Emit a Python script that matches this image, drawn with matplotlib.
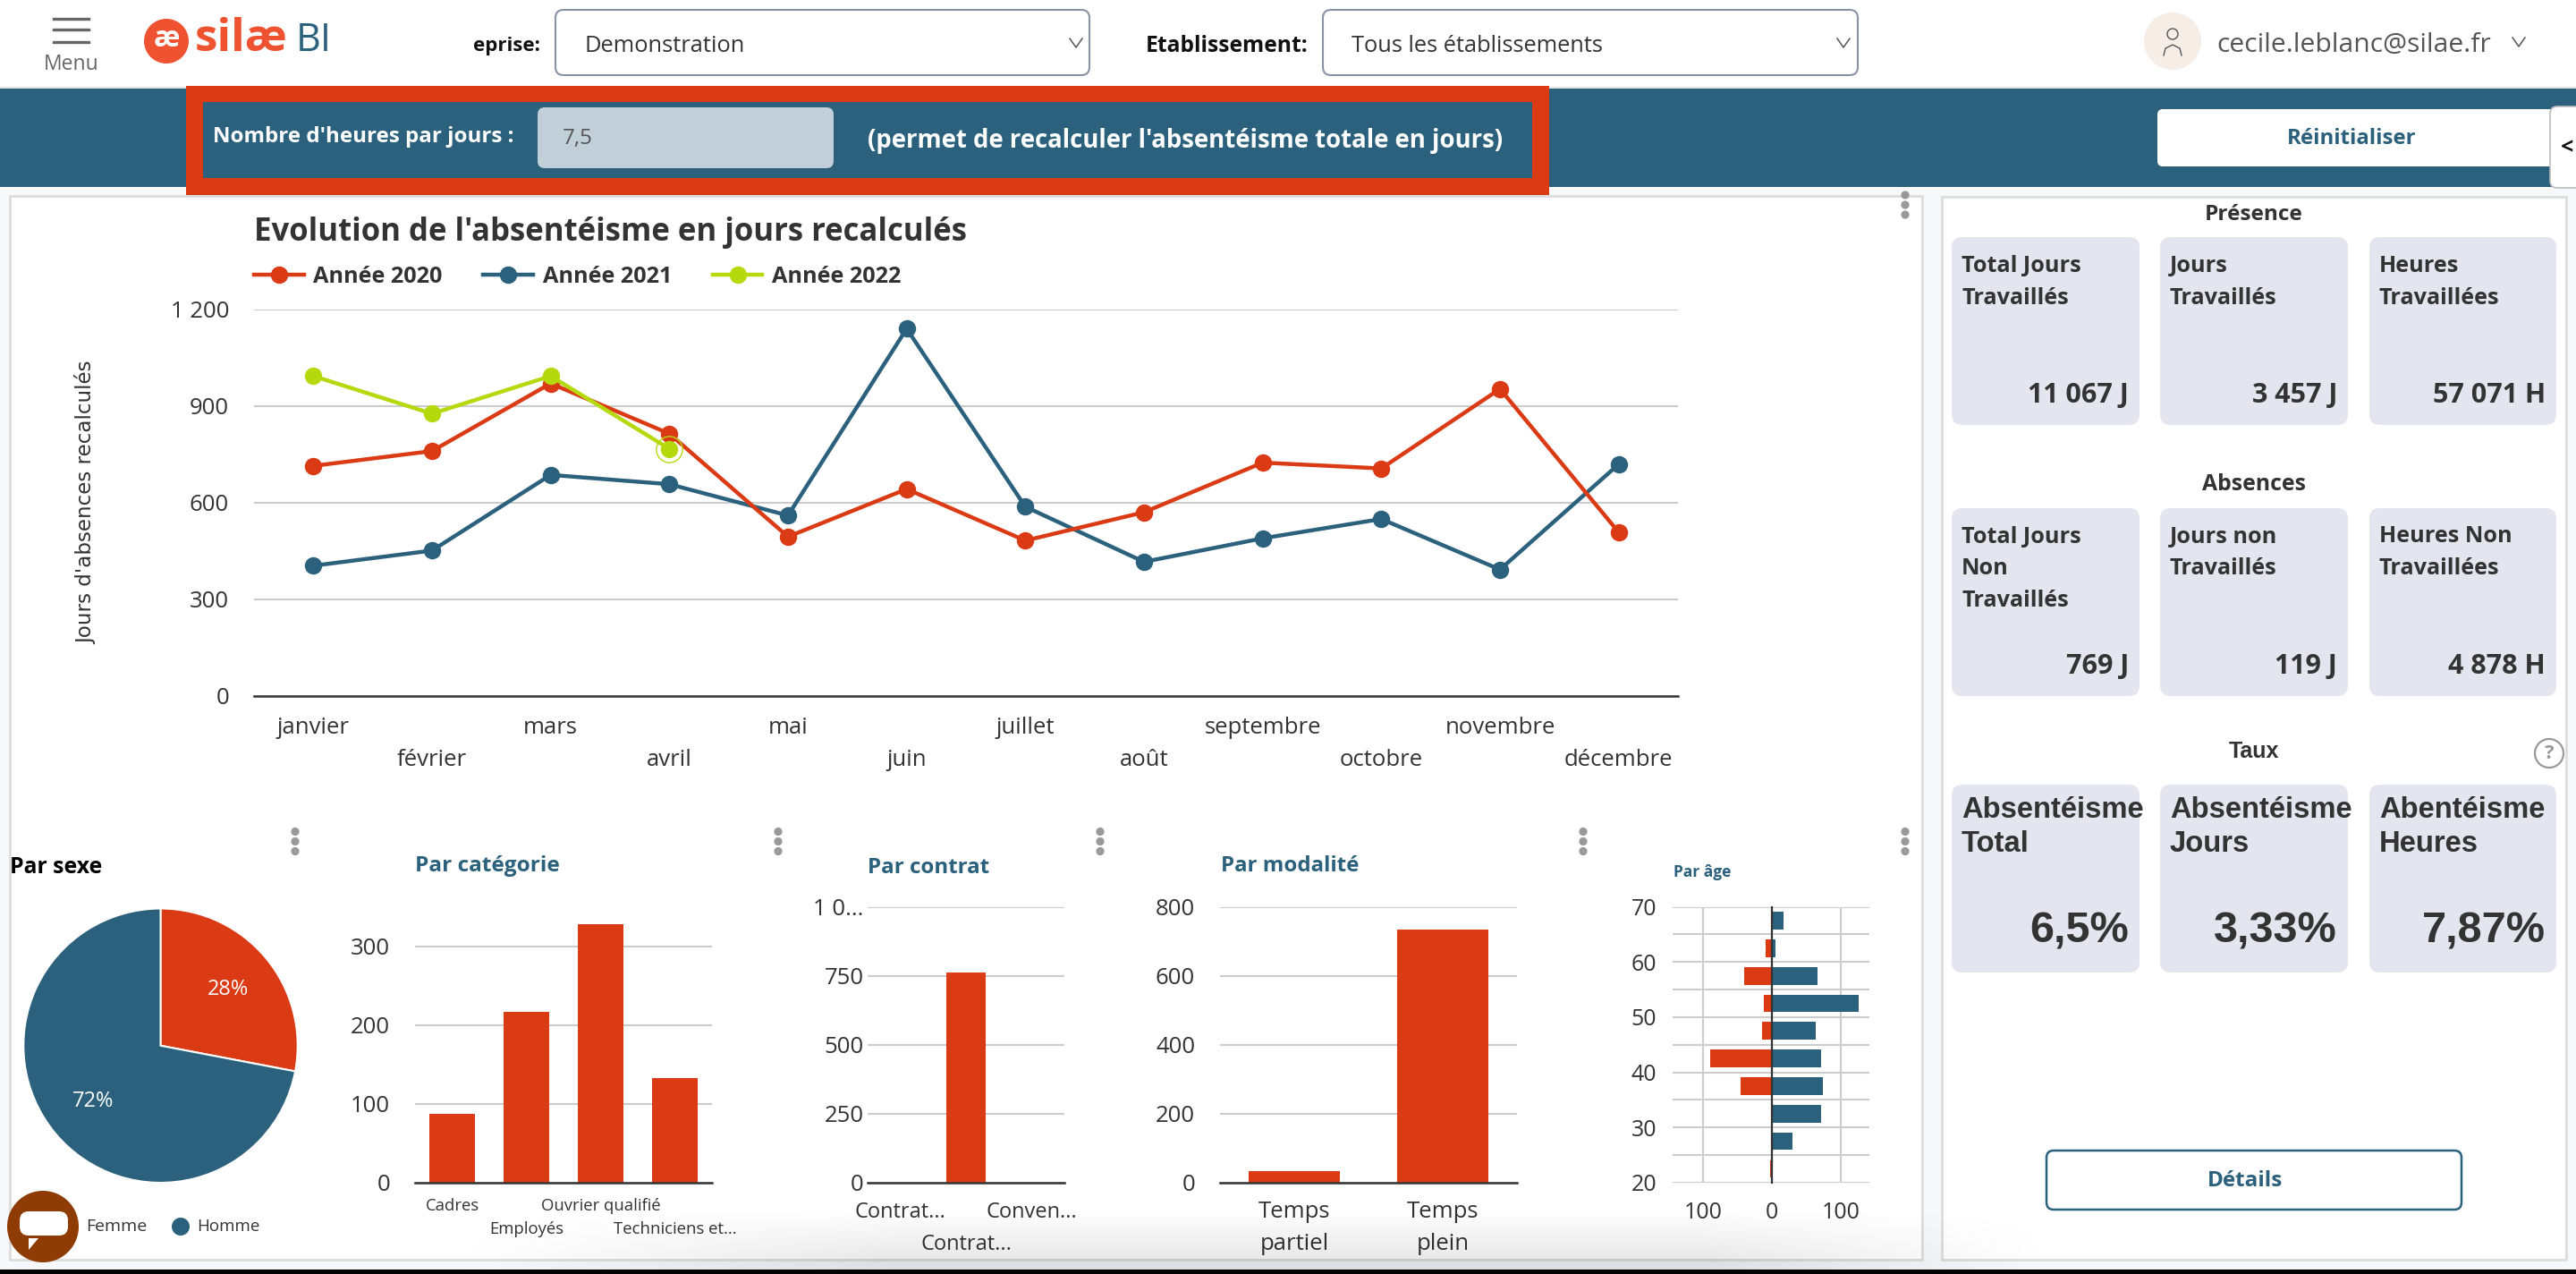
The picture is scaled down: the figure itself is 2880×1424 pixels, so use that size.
import numpy as np
import matplotlib
matplotlib.use("Agg")
import matplotlib.pyplot as plt
from matplotlib.patches import FancyBboxPatch, Rectangle, Ellipse, Circle, Polygon

# --- data ---
months = ["janvier", "février", "mars", "avril", "mai", "juin", "juillet",
          "août", "septembre", "octobre", "novembre", "décembre"]
year_2020 = [714, 760, 970, 814, 494, 642, 482, 570, 724, 706, 953, 508]
year_2021 = [404, 451, 686, 657, 560, 1140, 587, 416, 489, 549, 392, 719]
year_2022 = [993, 876, 993, 767]
main_ticks = [0, 300, 600, 900, 1200]
main_ticklabels = ["0", "300", "600", "900", "1 200"]

sex_labels = ["Femme", "Homme"]
sex_values = [28, 72]

cat_labels = ["Cadres", "Employés", "Ouvrier qualifié", "Techniciens et..."]
cat_values = [87.5, 217, 328.5, 132.7]
cat_ticks = [0, 100, 200, 300]

contract_labels = ["Contrat...", "Contrat...", "Conven..."]
contract_values = [0, 761, 0]
contract_ticks = [0, 250, 500, 750, 1000]
contract_ticklabels = ["0", "250", "500", "750", "1 0..."]

mode_labels = ["Temps\npartiel", "Temps\nplein"]
mode_values = [33, 734]
mode_ticks = [0, 200, 400, 600, 800]

age_bins = [67.5, 62.5, 57.5, 52.5, 47.5, 42.5, 37.5, 32.5, 27.5, 22.5]
age_femme = [0, -9, -40, -12, -14, -90, -45, 0, 0, -3]
age_homme = [17, 5.6, 66, 126, 64, 71, 74, 71, 30, 0]
age_ticks = [20, 30, 40, 50, 60, 70]

presence_labels = ["Total Jours\nTravaillés", "Jours\nTravaillés", "Heures\nTravaillées"]
presence_values = ["11 067 J", "3 457 J", "57 071 H"]
absence_labels = ["Total Jours\nNon\nTravaillés", "Jours non\nTravaillés", "Heures Non\nTravaillées"]
absence_values = ["769 J", "119 J", "4 878 H"]
rate_labels = ["Absentéisme\nTotal", "Absentéisme\nJours", "Abentéisme\nHeures"]
rate_values = ["6,5%", "3,33%", "7,87%"]

RED = "#DA3A14"
TEAL = "#2B617C"
GREEN = "#B6D90E"
DARK = "#333333"
GRID = "#CCCCCC"
CARD = "#E4E5EE"
PAGE = "#F6F8FC"
BORDER = "#DDDDDD"

W, H = 2880, 1424
FONT = ["Open Sans", "DejaVu Sans"]
ARIAL = ["Liberation Sans", "DejaVu Sans"]
plt.rcParams["font.family"] = FONT
plt.rcParams["axes.unicode_minus"] = False

fig = plt.figure(figsize=(W / 100, H / 100), dpi=100, facecolor="black")

# full-figure layer in pixel coordinates, for the page around the charts
bg = fig.add_axes([0, 0, 1, 1], zorder=0)
bg.set_xlim(0, W)
bg.set_ylim(H, 0)
bg.axis("off")


def px_axes(left, top, right, bottom):
    ax = fig.add_axes([left / W, 1 - bottom / H, (right - left) / W, (bottom - top) / H], zorder=2)
    ax.patch.set_alpha(0)
    for s in ax.spines.values():
        s.set_visible(False)
    return ax


def box(x0, y0, x1, y1, fc, ec="none", lw=0, r=0, z=1, layer=None):
    layer = layer or bg
    if r:
        p = FancyBboxPatch((x0, y0), x1 - x0, y1 - y0, boxstyle="round,pad=0,rounding_size=%s" % r,
                           fc=fc, ec=ec, lw=lw, zorder=z)
    else:
        p = Rectangle((x0, y0), x1 - x0, y1 - y0, fc=fc, ec=ec, lw=lw, zorder=z)
    layer.add_patch(p)


def label(x, y, s, size, color=DARK, weight="normal", ha="left", family=FONT, layer=None, **kw):
    layer = layer or bg
    layer.text(x, y, s, fontsize=size, color=color, fontweight=weight, ha=ha, va="center",
               family=family, **kw)


def chevron(x, y):
    bg.plot([x - 7, x, x + 7], [y - 5, y + 5, y - 5], color="#555555", lw=1.1, zorder=3)


def dots(x, y):
    for d in (-11, 0, 11):
        bg.add_patch(Circle((x, y + d), 4.6, fc="#999999", ec="none", zorder=3))


# page, header
box(0, -40, W, 1419, "white", r=16, z=0)
box(0, 210, W, 1419, PAGE, z=0.1)
box(0, 97, W, 99, "#E6E6E6", z=0.2)
box(0, 99, W, 209, TEAL, z=0.3)

for y in (21, 33, 47):
    bg.plot([60, 99], [y, y], color="#666666", lw=2.4, zorder=3)
label(80, 72, "Menu", 16.5, color="#666666", ha="center")

bg.add_patch(Ellipse((186, 46), 50, 50, fc="#EE5230", ec="none", zorder=2))
label(186, 44, "æ", 23, color="white", weight="bold", ha="center")
label(218, 44, "silæ", 37, color="#EE5230", weight="bold")
label(331, 46, "BI", 31, color=TEAL)

label(604, 51, "eprise:", 16, color="#111111", weight="bold", ha="right")
box(621, 11, 1218, 84, "white", ec="#8A92A6", lw=1.5, r=9)
label(654, 52, "Demonstration", 18.4)
chevron(1203, 48)
label(1281, 51, "Etablissement:", 17.7, color="#111111", weight="bold")
box(1479, 11, 2077, 84, "white", ec="#8A92A6", lw=1.5, r=9)
label(1511, 52, "Tous les établissements", 18.3)
chevron(2061, 48)
bg.add_patch(Circle((2429, 46), 32, fc="#F5EDE6", ec="none", zorder=2))
bg.add_patch(Circle((2429, 38), 6, fc="none", ec="#555555", lw=1, zorder=3))
bg.plot([2419, 2421, 2429, 2437, 2439], [62, 54, 50, 54, 62], color="#555555", lw=1, zorder=3)
label(2478, 50, "cecile.leblanc@silae.fr", 21.6, color="#555555")
chevron(2816, 47)

# red highlight around the hours input
box(208, 96, 1732, 218, RED, z=1)
box(227, 114, 1713, 199, TEAL, z=1.1)
label(238, 153, "Nombre d'heures par jours :", 17.4, color="white", weight="bold")
box(601, 120, 932, 188, "#C1CFD8", r=8, z=1.2)
label(629, 155, "7,5", 17.5, color="#555555")
label(970, 157, "(permet de recalculer l'absentéisme totale en jours)", 19.8, color="white", weight="bold")
box(2412, 122, 2860, 186, "white", r=6, z=1)
label(2629, 155, "Réinitialiser", 17.3, color=TEAL, weight="bold", ha="center")
box(2851, 119, 2900, 210, "white", ec="#BBBBBB", lw=1.2, r=8, z=1.2)
label(2870, 166, "<", 18, color="#111111", weight="bold", ha="center")

# panels
box(11, 219, 2149, 1408, "white", ec=BORDER, lw=2, z=0.5)
box(2171, 220, 2869, 1408, "white", ec=BORDER, lw=2, z=0.5)
dots(2130, 229)
for x in (330, 870, 1230, 1770, 2130):
    dots(x, 940.5)

# main line chart
ax = px_axes(284, 345.8, 1876, 777.7)
xs = np.arange(len(months))
line_style = dict(lw=3.2, marker="o", ms=14, mew=0, clip_on=False)
ax.plot(xs, year_2021, color=TEAL, label="Année 2021", zorder=3, **line_style)
ax.plot(xs, year_2020, color=RED, label="Année 2020", zorder=3.1, **line_style)
ax.plot(xs[:len(year_2022)], year_2022, color=GREEN, label="Année 2022", zorder=3.2, **line_style)
ax.plot(xs[3], year_2022[3], marker="o", ms=21, mfc="none", mec=GREEN, mew=1, zorder=3.3)
ax.set_xlim(-0.5, 11.5)
ax.set_ylim(0, 1200)
ax.set_yticks(main_ticks, main_ticklabels)
ax.set_xticks([])
ax.tick_params(axis="y", length=0, pad=20, labelsize=18.5, labelcolor=DARK)
ax.grid(axis="y", color=GRID, lw=1.5, zorder=0)
ax.axhline(0, color=DARK, lw=1.8, zorder=2, clip_on=False)
for i, m in enumerate(months):
    ax.annotate(m, xy=(i, 0), xycoords=("data", "axes fraction"),
                xytext=(0, -36 if i % 2 == 0 else -72), textcoords="offset pixels",
                ha="center", va="center", fontsize=18.5, color=DARK)
handles, names = ax.get_legend_handles_labels()
order = [1, 0, 2]
ax.legend([handles[i] for i in order], [names[i] for i in order], loc="lower left", frameon=False,
          bbox_to_anchor=(284, 322), bbox_transform=bg.transData, ncols=3, borderpad=0, borderaxespad=0,
          handlelength=2.2, handletextpad=0.43, columnspacing=1.8,
          prop={"family": FONT, "weight": "bold", "size": 18.2}, labelcolor=DARK)
bg.text(96, 562, "Jours d'absences recalculés", rotation=90, fontsize=16.6, color=DARK,
        ha="center", va="center", family="DejaVu Sans", zorder=3)
label(284, 260, "Evolution de l'absentéisme en jours recalculés", 25, weight="bold")

# pie
ax = px_axes(26, 1015.5, 333, 1322)
ax.pie(sex_values, colors=[RED, TEAL], startangle=90, counterclock=False, radius=1,
       wedgeprops=dict(edgecolor="white", linewidth=1.5), autopct="%d%%", pctdistance=0.64,
       textprops=dict(color="white", fontsize=17))
ax.set_xlim(-1, 1)
ax.set_ylim(-1, 1)
label(11, 970, "Par sexe", 17.8, color="#000000", weight="bold")
label(96, 1371, sex_labels[0], 14)
bg.add_patch(Circle((202, 1371), 10, fc=TEAL, ec="none", zorder=2))
label(220, 1371, sex_labels[1], 13.5)


def bar_chart(ax, labels, values, ticks, ticklabels, pad, width, top):
    xpos = np.arange(len(labels))
    ax.bar(xpos, values, width=width, color=RED, zorder=2)
    ax.set_xlim(-0.5, len(labels) - 0.5)
    ax.set_ylim(0, top)
    ax.set_yticks(ticks, ticklabels)
    ax.set_xticks([])
    ax.tick_params(axis="y", length=0, pad=pad, labelsize=18.5, labelcolor=DARK)
    ax.grid(axis="y", color=GRID, lw=1.5, zorder=0)
    ax.set_axisbelow(True)
    ax.axhline(0, color=DARK, lw=1.8, zorder=3, clip_on=False)


def row_text(ax, i, s, offset, size):
    ax.annotate(s, xy=(i, 0), xycoords=("data", "axes fraction"), xytext=(0, -offset),
                textcoords="offset pixels", ha="center", va="center", fontsize=size, color=DARK)


# par catégorie
ax = px_axes(464, 1022.6, 796, 1321.8)
bar_chart(ax, cat_labels, cat_values, cat_ticks, [str(t) for t in cat_ticks], 20, 0.61, 340)
for i, s in enumerate(cat_labels):
    row_text(ax, i, s, 26 if i % 2 == 0 else 52, 13.3)
label(464, 968.5, "Par catégorie", 17.6, color=TEAL, weight="bold")

# par contrat
ax = px_axes(970, 1013.6, 1190, 1321.8)
bar_chart(ax, contract_labels, contract_values, contract_ticks, contract_ticklabels, 3, 0.6, 1000)
for i, s in enumerate(contract_labels):
    row_text(ax, i, s, 33 if i != 1 else 69, 17)
label(970.5, 969.5, "Par contrat", 17.4, color=TEAL, weight="bold")

# par modalité
ax = px_axes(1364, 1013.6, 1696, 1321.8)
bar_chart(ax, mode_labels, mode_values, mode_ticks, [str(t) for t in mode_ticks], 20, 0.615, 800)
for i, s in enumerate(mode_labels):
    first, second = s.split("\n")
    row_text(ax, i, first, 33, 18.5)
    row_text(ax, i, second, 69, 18.5)
label(1365, 968, "Par modalité", 17.3, color=TEAL, weight="bold")

# par âge
ax = px_axes(1870, 1013.6, 2090, 1321.8)
ax.barh(age_bins, age_femme, height=3.2, color=RED, zorder=2)
ax.barh(age_bins, age_homme, height=3.2, color=TEAL, zorder=2)
ax.set_xlim(-144, 141.5)
ax.set_ylim(20, 70)
ax.set_yticks(age_ticks, [str(t) for t in age_ticks])
ax.set_yticks(np.arange(20, 71, 5), minor=True)
ax.set_xticks([-100, 0, 100], ["100", "0", "100"])
ax.tick_params(axis="both", which="both", length=0)
ax.tick_params(axis="y", pad=13, labelsize=18, labelcolor=DARK)
ax.tick_params(axis="x", pad=15, labelsize=18, labelcolor=DARK)
ax.grid(axis="y", which="both", color=GRID, lw=1.5, zorder=0)
ax.grid(axis="x", color=GRID, lw=1.5, zorder=0)
ax.axvline(0, color=DARK, lw=1.6, zorder=3, clip_on=False)
label(1871, 974.5, "Par âge", 12.5, color=TEAL, weight="bold")

# KPI cards on the right
card_cols = [(2182, 2392), (2415, 2625), (2649, 2858)]


def card_row(top, bottom, first_y, line_gap, value_y, labels, values, family, lsize, vsize):
    for (x0, x1), s, v in zip(card_cols, labels, values):
        box(x0, top, x1, bottom, CARD, r=12, z=1)
        for n, line in enumerate(s.split("\n")):
            label(x0 + 11, first_y + n * line_gap, line, lsize, weight="bold", family=family)
        label(x1 - 12, value_y, v, vsize, weight="bold", ha="right", family=family)


label(2520, 240, "Présence", 17.6, weight="bold", ha="center")
card_row(265, 475, 297, 36, 442, presence_labels, presence_values, FONT, 18.2, 22)
label(2520, 542, "Absences", 17.8, weight="bold", ha="center")
card_row(568, 778, 600, 36, 745, absence_labels, absence_values, FONT, 18.2, 22)
label(2520, 840, "Taux", 18, color=DARK, weight="bold", ha="center", family=ARIAL)
card_row(877, 1087, 906, 37.5, 1041, rate_labels, rate_values, ARIAL, 23.6, 35)

bg.add_patch(Circle((2850, 842), 16, fc="white", ec="#999999", lw=1.6, zorder=2))
label(2850, 842, "?", 16, color="#999999", weight="bold", ha="center")
box(2288, 1286, 2752, 1352, "white", ec=TEAL, lw=1.8, r=8, z=1)
label(2510, 1320, "Détails", 17.5, color=TEAL, weight="bold", ha="center")

# top layer: grey fade at the bottom of the screenshot, chat bubble
top = fig.add_axes([0, 0, 1, 1], zorder=5)
top.patch.set_alpha(0)
top.axis("off")
fx = np.clip((np.arange(W) - 500) / 500, 0, 1) * np.clip((2300 - np.arange(W)) / 400, 0, 1)
fy = np.clip((np.arange(1350, 1419) - 1350) / 60, 0, 1)
fade = np.zeros((len(fy), W, 4))
fade[..., 3] = 0.1 * np.outer(fy, fx)
top.imshow(fade, extent=(0, W, 1419, 1350), aspect="auto", zorder=1)
top.set_xlim(0, W)
top.set_ylim(H, 0)
top.add_patch(Circle((48, 1371), 40, fc="#8F3B04", ec="none", zorder=2))
box(22, 1354, 76, 1381, "white", r=10, z=3, layer=top)
top.add_patch(Polygon([[32, 1384], [43, 1384], [32, 1397]], fc="white", ec="none", zorder=3))

fig.savefig("out.png", dpi=100, facecolor=fig.get_facecolor())
